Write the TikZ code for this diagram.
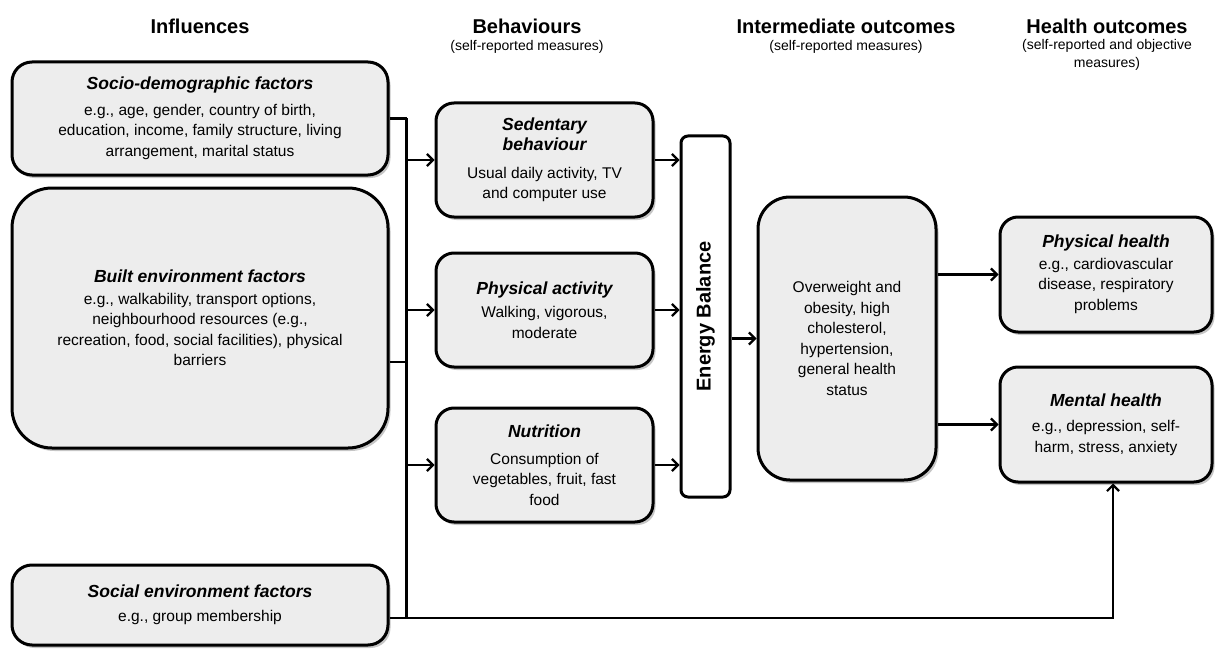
\documentclass[tikz,border=0pt]{standalone}
\usepackage{fontspec}
\setmainfont{Liberation Sans}
\usepackage{graphicx}
\usetikzlibrary{arrows.meta,shadows,calc}
\definecolor{boxgray}{HTML}{EDEDED}
\newcommand{\ttl}[1]{{\fontsize{17.5}{20}\selectfont\bfseries\itshape #1}}
\begin{document}
\begin{tikzpicture}[x=1pt,y=-1pt,
  box/.style={draw=black, line width=3pt, fill=boxgray, rounded corners=#1,
    align=center, inner sep=3pt, font=\fontsize{15.5}{20.5}\selectfont,
    drop shadow={shadow xshift=2.5pt, shadow yshift=-3pt, opacity=0.45}},
  box/.default=18pt,
  ebbox/.style={draw=black, line width=3pt, fill=white, rounded corners=7pt,
    inner sep=0pt, font=\fontsize{20}{22}\selectfont\bfseries},
  head/.style={font=\fontsize{20}{22}\selectfont\bfseries, inner sep=0pt},
  sub/.style={font=\fontsize{14}{18}\selectfont, align=center, inner sep=0pt},
  conn/.style={line width=2.2pt},
  arr/.style={line width=2.2pt, -{Straight Barb[length=6pt,width=12pt]}}
]
\useasboundingbox (0,0) rectangle (1218,650);

% headers
\node[head] (hInf) at (200,26) {Influences};
\node[head] (hBeh) at (527,26) {Behaviours};
\node[sub]  (sBeh) at (527,47) {(self-reported measures)};
\node[head] (hInt) at (846,26) {Intermediate outcomes};
\node[sub]  (sInt) at (846,47) {(self-reported measures)};
\node[head] (hHea) at (1107,26) {Health outcomes};
\node[sub, anchor=north] (sHea) at (1107,39) {(self-reported and objective\\measures)};

% influences
\node[box=20pt, minimum width=376, minimum height=113] (socio) at (200,118.5)
  {\ttl{Socio-demographic factors}\\[5pt]
   \fontsize{15.5}{17.5}\selectfont e.g., age, gender, country of birth,\\
   education, income, family structure, living\\
   arrangement, marital status};
\node[box=40pt, minimum width=376, minimum height=260] (built) at (200,318)
  {\ttl{Built environment factors}\\[1pt]
   e.g., walkability, transport options,\\
   neighbourhood resources (e.g.,\\
   recreation, food, social facilities), physical\\
   barriers};
\node[box=20pt, minimum width=376, minimum height=80] (social) at (200,605)
  {\ttl{Social environment factors}\\[3pt]
   e.g., group membership};

% behaviours
\node[box, minimum width=217, minimum height=114] (sed) at (544.5,160)
  {\ttl{Sedentary}\\\ttl{behaviour}\\[7pt]
   Usual daily activity, TV\\and computer use};
\node[box, minimum width=217, minimum height=114] (pa) at (544.5,310)
  {\ttl{Physical activity}\\[3pt]
   Walking, vigorous,\\moderate};
\node[box, minimum width=217, minimum height=114] (nut) at (544.5,465)
  {\ttl{Nutrition}\\[6pt]
   Consumption of\\vegetables, fruit, fast\\food};

% energy balance
\node[ebbox, minimum width=49, minimum height=361] (eb) at (705.5,316.5)
  {\rotatebox{90}{Energy Balance}};

% intermediate
\node[box=32pt, minimum width=178, minimum height=283] (inter) at (847,338.5)
  {Overweight and\\obesity, high\\cholesterol,\\hypertension,\\general health\\status};

% health outcomes
\node[box, minimum width=212, minimum height=115] (ph) at (1106,274.5)
  {\ttl{Physical health}\\[1pt]
   e.g., cardiovascular\\disease, respiratory\\problems};
\node[box, minimum width=212, minimum height=115] (mh) at (1106,424.5)
  {\ttl{Mental health}\\[5pt]
   e.g., depression, self-\\harm, stress, anxiety};

% connectors
\path (socio.east) ++(17,0) coordinate (tTop);
\path ([yshift=-13pt]social.east) ++(17,0) coordinate (tBot);
\draw[conn] (tTop) -- (tBot);
\draw[conn] (socio.east) -- (tTop);
\draw[conn] ([yshift=-44pt]built.east) -- ([yshift=-44pt]built.east -| tTop);
\draw[arr] (tTop |- sed.west) -- (sed.west);
\draw[arr] (tTop |- pa.west) -- (pa.west);
\draw[arr] (tTop |- nut.west) -- (nut.west);
\draw[arr] (sed.east) -- (sed.east -| eb.west);
\draw[arr] (pa.east) -- (pa.east -| eb.west);
\draw[arr] (nut.east) -- (nut.east -| eb.west);
\draw[arr] (inter.west -| eb.east) -- (inter.west);
\draw[arr] (ph.west -| inter.east) -- (ph.west);
\draw[arr] (mh.west -| inter.east) -- (mh.west);
\draw[arr] ([yshift=-13pt]social.east) -| ([xshift=7pt]mh.south);
\end{tikzpicture}
\end{document}
